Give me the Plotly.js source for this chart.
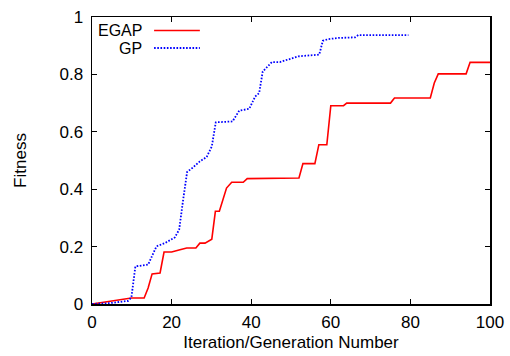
<!DOCTYPE html>
<html>
<head>
<meta charset="utf-8">
<script src="https://cdn.plot.ly/plotly-3.0.1.min.js"></script>
<style>html,body{margin:0;padding:0;background:#fff;}#chart{width:510px;height:356px;}</style>
</head>
<body>
<div id="chart"></div>
<script>
var egapX = [0,4,7.4,9.9,13.1,14.1,15.1,17.1,18.1,20,22.1,23.8,26.1,27.1,28.4,30.1,31,32,33.8,35.1,38,39,52,53,56,57,59,60,63.2,64,75,76,85,86,87,94,95,100];
var egapY = [0,0.009,0.015,0.021,0.021,0.056,0.105,0.108,0.181,0.181,0.189,0.195,0.195,0.212,0.212,0.226,0.323,0.323,0.404,0.424,0.424,0.437,0.439,0.489,0.489,0.555,0.555,0.691,0.691,0.700,0.700,0.718,0.718,0.770,0.802,0.802,0.842,0.842];
var gpX = [0,4.5,9.1,9.9,10.9,14.1,16.2,18.3,20.8,21.9,22.9,23.9,25.2,27.1,28.8,30.1,31.1,35.3,37,39.5,41,42,42.9,45.2,47.2,49.8,51.9,57.1,58,59.4,61.9,66.1,66.9,79.5];
var gpY = [0,0.003,0.011,0.023,0.131,0.137,0.201,0.212,0.232,0.259,0.363,0.460,0.474,0.497,0.512,0.549,0.633,0.636,0.674,0.680,0.723,0.735,0.810,0.843,0.843,0.854,0.863,0.869,0.917,0.923,0.927,0.929,0.937,0.937];
var seriesNames = ['EGAP','GP'];
var xTicks = [0,20,40,60,80,100];
var yTicks = [0,0.2,0.4,0.6,0.8,1];
var yTickText = ['0','0.2','0.4','0.6','0.8','1'];

var font = {family:'Liberation Sans, Arial, sans-serif', size:17, color:'#000'};
var legFont = {family:'Liberation Sans, Arial, sans-serif', size:16, color:'#000'};
var traces = [
  {x:egapX, y:egapY, mode:'lines', name:seriesNames[0], line:{color:'#ff0000', width:1.6}, showlegend:false},
  {x:gpX, y:gpY, mode:'lines', name:seriesNames[1], line:{color:'#0000ff', width:1.8, dash:'1.6px,1.6px'}, showlegend:false}
];
var axisCommon = {showgrid:false, zeroline:false, showline:true, linecolor:'#000', linewidth:1.5,
  ticks:'inside', ticklen:5, tickcolor:'#000', tickwidth:1, mirror:'allticks', tickfont:font};
var layout = {
  width:510, height:356,
  margin:{l:92, r:20, t:17, b:52},
  paper_bgcolor:'#fff', plot_bgcolor:'#fff',
  font:font,
  xaxis:Object.assign({}, axisCommon, {range:[0,100], tickvals:xTicks, ticktext:xTicks.map(String),
    ticklabelstandoff:2,
    title:{text:'Iteration/Generation Number', font:font, standoff:5}}),
  yaxis:Object.assign({}, axisCommon, {range:[0,1], tickvals:yTicks, ticktext:yTickText,
    ticklabelstandoff:4,
    title:{text:'Fitness', font:font, standoff:28}}),
  annotations:[
    {xref:'paper', yref:'paper', x:0.128, y:0.953, xanchor:'right', yanchor:'middle', text:seriesNames[0], showarrow:false, font:legFont, borderpad:0},
    {xref:'paper', yref:'paper', x:0.128, y:0.889, xanchor:'right', yanchor:'middle', text:seriesNames[1], showarrow:false, font:legFont, borderpad:0}
  ],
  shapes:[
    {type:'line', xref:'paper', yref:'paper', x0:0.156, x1:0.271, y0:0.953, y1:0.953, line:{color:'#ff0000', width:1.6}},
    {type:'line', xref:'paper', yref:'paper', x0:0.156, x1:0.271, y0:0.892, y1:0.892, line:{color:'#0000ff', width:1.8, dash:'1.6px,1.6px'}}
  ]
};
Plotly.newPlot('chart', traces, layout, {displayModeBar:false, staticPlot:true});
</script>
</body>
</html>
